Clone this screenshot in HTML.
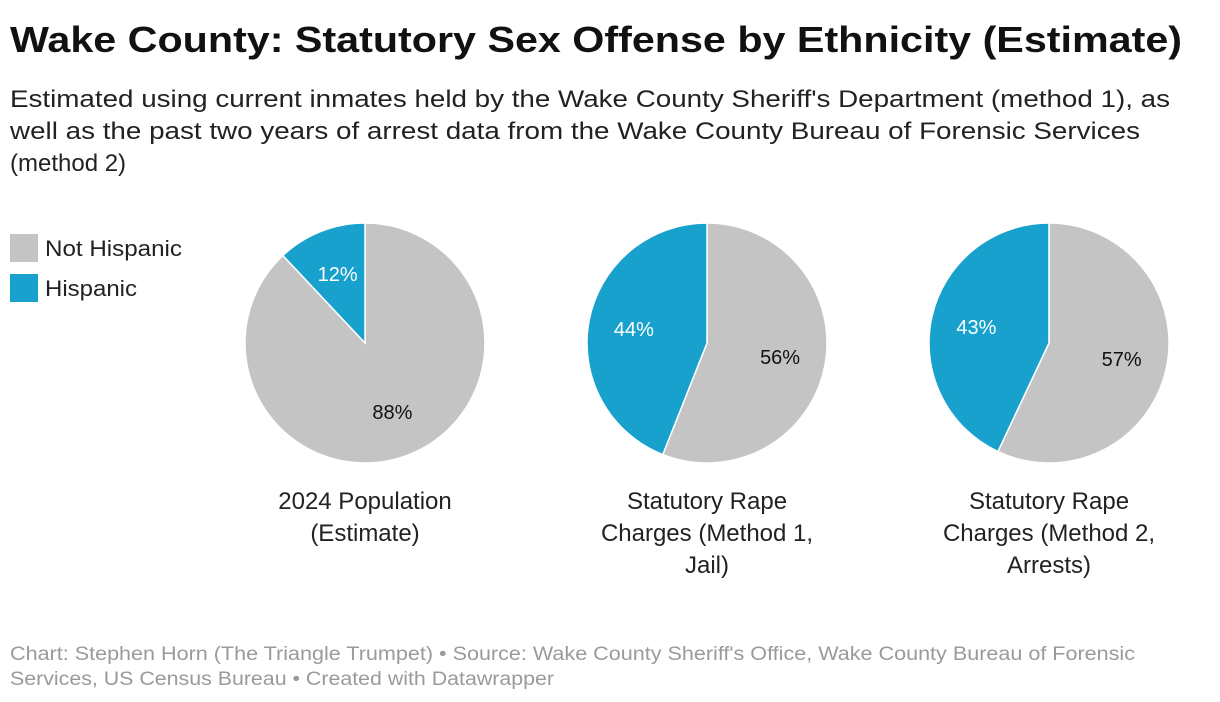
<!DOCTYPE html>
<html><head><meta charset="utf-8">
<style>
body{margin:0;background:#fff;width:1220px;height:702px;overflow:hidden;font-family:"Liberation Sans",sans-serif;}
svg{display:block}
</style></head>
<body>
<svg width="1220" height="702">
<text x="10" y="52" font-size="36" font-weight="bold" fill="#111" textLength="1172" lengthAdjust="spacingAndGlyphs">Wake County: Statutory Sex Offense by Ethnicity (Estimate)</text>
<g font-size="24" fill="#222">
<text x="10" y="107" textLength="1160" lengthAdjust="spacingAndGlyphs">Estimated using current inmates held by the Wake County Sheriff's Department (method 1), as</text>
<text x="10" y="139" textLength="1130" lengthAdjust="spacingAndGlyphs">well as the past two years of arrest data from the Wake County Bureau of Forensic Services</text>
<text x="10" y="171">(method 2)</text>
</g>
<g font-size="22" fill="#222">
<rect x="10" y="234" width="28" height="28" fill="#c4c4c4"/>
<text x="45" y="256" textLength="137" lengthAdjust="spacingAndGlyphs">Not Hispanic</text>
<rect x="10" y="274" width="28" height="28" fill="#18a1cd"/>
<text x="45" y="296" textLength="92" lengthAdjust="spacingAndGlyphs">Hispanic</text>
</g>
<g id="pies"></g>
<g font-size="19" fill="#9a9a9a">
<text x="10" y="660" textLength="1125" lengthAdjust="spacingAndGlyphs">Chart: Stephen Horn (The Triangle Trumpet) • Source: Wake County Sheriff's Office, Wake County Bureau of Forensic</text>
<text x="10" y="685" textLength="544" lengthAdjust="spacingAndGlyphs">Services, US Census Bureau • Created with Datawrapper</text>
</g>
</svg>
<script>
const categories=[["2024 Population","(Estimate)"],["Statutory Rape","Charges (Method 1,","Jail)"],["Statutory Rape","Charges (Method 2,","Arrests)"]];
const notHispanic=[88,56,57];
const hispanic=[12,44,43];
const ns="http://www.w3.org/2000/svg";
const g=document.getElementById('pies');
const centersX=[365,707,1049], cy=343, R=120;
function pt(cx,a,r){return [cx+Math.sin(a)*r, cy-Math.cos(a)*r];}
function slice(cx,a0,a1,color,name){
  const p=document.createElementNS(ns,'path');
  const [x0,y0]=pt(cx,a0,R),[x1,y1]=pt(cx,a1,R);
  const large=(a1-a0)>Math.PI?1:0;
  p.setAttribute('d',`M${cx},${cy}L${x0},${y0}A${R},${R} 0 ${large} 1 ${x1},${y1}Z`);
  p.setAttribute('fill',color);p.setAttribute('stroke','#fff');p.setAttribute('stroke-width','1.5');
  
  
  g.appendChild(p);
}
function label(cx,a,txt,color,name){
  const [x,y]=pt(cx,a,R*0.62);
  const t=document.createElementNS(ns,'text');
  t.setAttribute('x',x);t.setAttribute('y',y+7);t.setAttribute('text-anchor','middle');
  t.setAttribute('font-size','20');t.setAttribute('fill',color);t.textContent=txt;
  
  
  g.appendChild(t);
}
categories.forEach((cat,i)=>{
  const cx=centersX[i], tot=notHispanic[i]+hispanic[i];
  const aN=notHispanic[i]/tot*2*Math.PI;
  slice(cx,0,aN,'#c4c4c4','slice-not-hispanic-'+i);
  slice(cx,aN,2*Math.PI,'#18a1cd','slice-hispanic-'+i);
  label(cx,aN/2,notHispanic[i]+'%','#111','value-not-hispanic-'+i);
  label(cx,(aN+2*Math.PI)/2,hispanic[i]+'%','#fff','value-hispanic-'+i);
  cat.forEach((line,j)=>{
    const t=document.createElementNS(ns,'text');
    t.setAttribute('x',cx);t.setAttribute('y',509+j*32);t.setAttribute('text-anchor','middle');
    t.setAttribute('font-size','24');t.setAttribute('fill','#222');t.textContent=line;
    
    
    g.appendChild(t);
  });
});
</script>
</body></html>
